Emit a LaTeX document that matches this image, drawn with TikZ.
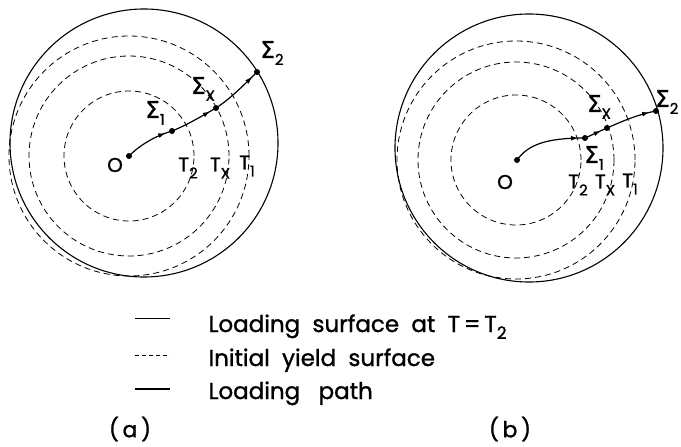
\documentclass[tikz,border=0pt]{standalone}
\usepackage{fontspec}
\setmainfont{Poppins}[FakeBold=1.2]
\newfontfamily\greekfont{DejaVu Sans}[FakeBold=1.2]
\usetikzlibrary{arrows.meta,decorations.markings}

\newcommand{\sig}[1]{{\greekfont\fontsize{23}{23}\selectfont Σ}\raisebox{-0.35em}{\fontsize{15}{15}\selectfont #1}}
\newcommand{\tlab}[1]{T\raisebox{-0.35em}{\fontsize{15}{15}\selectfont #1}}

\begin{document}
\begin{tikzpicture}[
  x=1pt, y=-1pt,
  surf/.style={line width=1.1pt},
  yieldc/.style={line width=0.8pt, dash pattern=on 6pt off 4pt},
  lpath/.style={
    line width=1.2pt, postaction={decorate},
    decoration={markings,
      mark=at position -7pt with {\arrow{Latex[length=7pt,width=5pt]}}}
  },
  dot/.style={circle, fill, inner sep=0pt, minimum size=6pt},
  lbl/.style={font=\fontsize{20}{20}\selectfont, inner sep=0pt},
  legtxt/.style={anchor=base west, font=\fontsize{23}{23}\selectfont}
]
\useasboundingbox (0,0) rectangle (681,447);

% --- Figura (a) ---
\draw[surf] (144,143) circle (134pt);
\foreach \r in {65,100,120}{
  \draw[yieldc] (129,156) circle (\r pt);
}
\node[dot] (Oa) at (129,156) {};
\node[dot] (S1a) at (172,131) {};
\node[dot] (Sxa) at (216,108) {};
\node[dot] (S2a) at (257,72) {};

\draw[lpath] (Oa.center) .. controls (140,145) and (155,136) .. (S1a.center);
\draw[lpath] (S1a.center) .. controls (187,125) and (202,116) .. (Sxa.center);
\draw[lpath] (Sxa.center) .. controls (230,99) and (244,85) .. (S2a.center);

\node[lbl] (Oalab) at (115,165) {O};
\node[lbl] (S1alab) at (155,113) {\sig{1}};
\node[lbl] (Sxalab) at (203,89) {\sig{X}};
\node[lbl] (S2alab) at (272,53) {\sig{2}};
\node[lbl] (T2a) at (188,168) {\tlab{2}};
\node[lbl] (Txa) at (220,168) {\tlab{X}};
\node[lbl] (T1a) at (247,166) {\tlab{1}};

% --- Figura (b) ---
\draw[surf] (529,148) circle (134pt);
\foreach \r in {65,98,119}{
  \draw[yieldc] (516,160) circle (\r pt);
}
\node[dot] (Ob) at (517,160) {};
\node[dot] (S1b) at (585,138) {};
\node[dot] (Sxb) at (607,128) {};
\node[dot] (S2b) at (656,111) {};

\draw[lpath] (Ob.center) .. controls (528,145) and (545,138) .. (S1b.center);
\draw[lpath] (S1b.center) .. controls (592,135) and (600,131) .. (Sxb.center);
\draw[lpath] (Sxb.center) .. controls (625,120) and (640,114) .. (S2b.center);

\node[lbl] (Oblab) at (505,182) {O};
\node[lbl] (S1blab) at (594,158) {\sig{1}};
\node[lbl] (Sxblab) at (599,107) {\sig{X}};
\node[lbl, anchor=west] (S2blab) at (655,102) {\sig{2}};
\node[lbl] (T2b) at (578,185) {\tlab{2}};
\node[lbl] (Txb) at (605,185) {\tlab{X}};
\node[lbl] (T1b) at (630,184) {\tlab{1}};

% --- Legenda ---
\draw[line width=0.8pt] (135,318) -- (170,318);
\draw[line width=0.8pt, dash pattern=on 4pt off 3pt] (135,355) -- (170,355);
\draw[line width=1.1pt] (135,389) -- (170,389);
\node[legtxt] (leg1) at (205,332) {Loading\ \ surface\ \ at\ \ T\,=\,T\raisebox{-0.3em}{\fontsize{17}{17}\selectfont 2}};
\node[legtxt] (leg2) at (205,366) {Initial\ \ yield\ \ surface};
\node[legtxt] (leg3) at (205,399) {Loading\ \ \ path};

\node[lbl, font=\fontsize{22}{22}\selectfont] (capa) at (130,429) {(\,a\,)};
\node[lbl, font=\fontsize{22}{22}\selectfont] (capb) at (510,429) {(\,b\,)};

\end{tikzpicture}
\end{document}
